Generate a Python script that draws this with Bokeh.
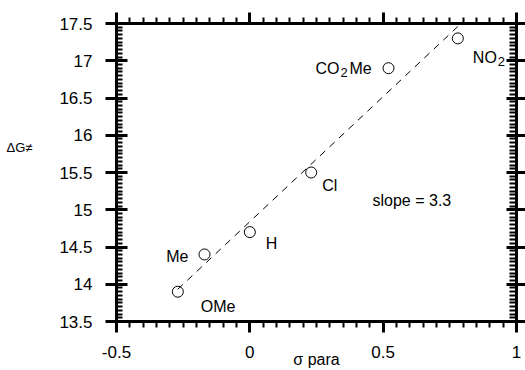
import numpy as np
from bokeh.plotting import figure
from bokeh.models import (LinearAxis, FixedTicker, Label, ColumnDataSource, Range1d,
                          CustomLabelingPolicy)
from bokeh.core.properties import value
from bokeh.embed import file_html
from bokeh.resources import INLINE

# ---------------- data ----------------
substituents = ["OMe", "Me", "H", "Cl", "CO2Me", "NO2"]
sigma_para = [-0.27, -0.17, 0.0, 0.23, 0.52, 0.78]
delta_g = [13.9, 14.4, 14.7, 15.5, 16.9, 17.3]
slope_text = "slope = 3.3"

x_ticks = [-0.5, 0.0, 0.5, 1.0]
x_tick_labels = ["-0.5", "0", "0.5", "1"]
y_ticks = [13.5, 14.0, 14.5, 15.0, 15.5, 16.0, 16.5, 17.0, 17.5]
y_tick_labels = ["13.5", "14", "14.5", "15", "15.5", "16", "16.5", "17", "17.5"]
x_title = "σ para"
y_title = "ΔG≠"
y_title_level = 15.83   # vertical placement of the horizontal y title

# label pieces (text, which point) - subscripts drawn as separate pieces
part_text = ["OMe", "Me", "H", "Cl", "CO", "2", "Me", "NO", "2"]
part_point = [0, 1, 2, 3, 4, 4, 4, 5, 5]

FONT = "Liberation Sans"

p = figure(width=525, height=370, output_backend="svg", toolbar_location=None,
           x_range=Range1d(-0.5, 1.0), y_range=Range1d(13.5, 17.5),
           min_border_left=116, min_border_right=9, min_border_top=23,
           min_border_bottom=48, x_axis_location=None, y_axis_location=None)
p.grid.visible = False
p.outline_line_color = None
p.background_fill_color = "white"
p.border_fill_color = "white"

x_minor = [round(v, 3) for v in np.arange(-0.5, 1.0001, 0.05)]
y_minor = [round(v, 3) for v in np.arange(13.5, 17.5001, 0.05)]

no_labels = CustomLabelingPolicy(code="return new Set()")


def make_axis(ticks, minor, labels, show, maj_in, maj_out, min_in, min_out):
    ax = LinearAxis(ticker=FixedTicker(ticks=ticks, minor_ticks=minor))
    ax.axis_line_width = 3
    ax.axis_line_color = "black"
    ax.major_tick_line_width = 3
    ax.minor_tick_line_width = 2
    ax.major_tick_in = maj_in
    ax.major_tick_out = maj_out
    ax.minor_tick_in = min_in
    ax.minor_tick_out = min_out
    if show:
        ax.major_label_overrides = dict(zip(ticks, labels))
        ax.major_label_text_font = FONT
        ax.major_label_text_font_size = "17px"
        ax.major_label_text_color = "black"
        ax.major_label_standoff = 13
    else:
        ax.major_label_policy = no_labels
        ax.major_label_text_font_size = "0px"
        ax.major_label_standoff = 0
    return ax


xaxis = make_axis(x_ticks, x_minor, x_tick_labels, True, 1, 11, 0, 6)
xaxis.axis_label = x_title
xaxis.axis_label_text_font = FONT
xaxis.axis_label_text_font_size = "16px"
xaxis.axis_label_text_font_style = "normal"
xaxis.axis_label_text_color = "black"
xaxis.axis_label_standoff = -10
p.add_layout(xaxis, "below")
p.add_layout(make_axis(x_ticks, x_minor, x_tick_labels, False, 0, 11, 0, 6), "above")
p.add_layout(make_axis(y_ticks, y_minor, y_tick_labels, True, 11, 11, 6, 0), "left")
p.add_layout(make_axis(y_ticks, y_minor, y_tick_labels, False, 10, 9, 7, 0), "right")

# outer left axis that only carries the horizontal y title as its single label
title_axis = LinearAxis(ticker=FixedTicker(ticks=[y_title_level]))
title_axis.axis_line_color = None
title_axis.major_tick_line_color = None
title_axis.minor_tick_line_color = None
title_axis.major_tick_in = 0
title_axis.major_tick_out = 0
title_axis.major_label_overrides = {y_title_level: y_title}
title_axis.major_label_text_font = FONT
title_axis.major_label_text_font_size = "13px"
title_axis.major_label_text_color = "black"
title_axis.major_label_standoff = 24
p.add_layout(title_axis, "left")

# regression line from data
coef = np.polyfit(sigma_para, delta_g, 1)
fit_x = [min(sigma_para), max(sigma_para)]
fit_y = list(np.polyval(coef, fit_x))
p.line(fit_x, fit_y, line_color="black", line_width=1, line_dash="7 6")

p.scatter(sigma_para, delta_g, marker="circle", size=11, fill_color=None,
          line_color="black", line_width=1)

# point labels
dx = [23, -16, 16, 11, -73, -48, -39, 15, 40]
dy = [15, 2.5, 11, 12.5, 0, 4, 0, 19, 23]
size = ["16px", "16px", "16px", "16px", "16px", "13px", "16px", "16px", "13px"]
align = ["left", "right", "left", "left", "left", "left", "left", "left", "left"]
src = ColumnDataSource(dict(
    x=[sigma_para[i] for i in part_point],
    y=[delta_g[i] for i in part_point],
    text=part_text, dx=dx, dy=dy, size=size, align=align))
p.text(x="x", y="y", text="text", source=src, x_offset="dx", y_offset="dy",
       text_font_size="size", text_align="align", text_baseline="alphabetic",
       text_font=value(FONT), text_color="black")

p.add_layout(Label(x=0.46, y=15.12, text=slope_text, text_font=FONT,
                   text_font_size="16px", text_color="black",
                   text_baseline="alphabetic"))

open("out.html", "w").write(file_html(p, INLINE))
